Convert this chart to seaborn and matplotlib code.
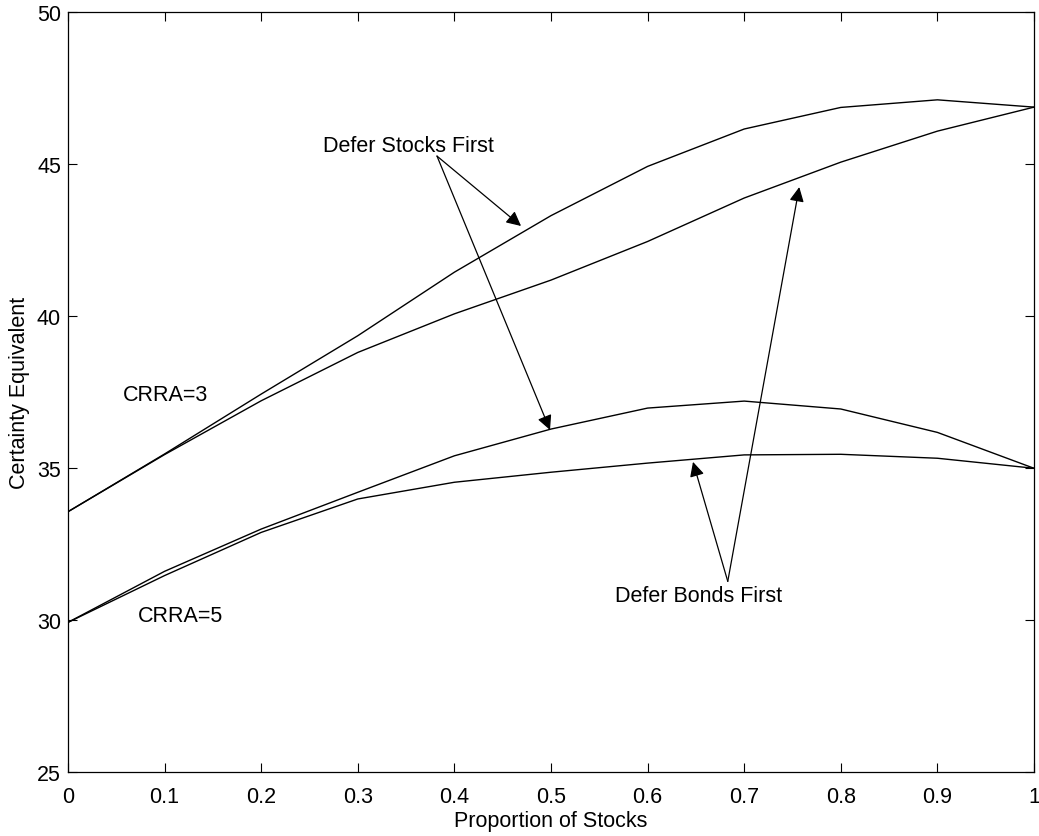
import matplotlib
matplotlib.use("Agg")
import matplotlib.pyplot as plt
import seaborn as sns

# proportion of stocks
prop = [0.0, 0.1, 0.2, 0.3, 0.4, 0.5, 0.6, 0.7, 0.8, 0.9, 1.0]

# certainty equivalents
crra3_defer_stocks = [33.56, 35.46, 37.43, 39.35, 41.44, 43.30, 44.92, 46.15, 46.86, 47.11, 46.87]
crra3_defer_bonds = [33.56, 35.44, 37.21, 38.80, 40.07, 41.18, 42.45, 43.88, 45.06, 46.08, 46.87]
crra5_defer_stocks = [29.92, 31.60, 32.99, 34.20, 35.40, 36.28, 36.97, 37.20, 36.94, 36.17, 34.99]
crra5_defer_bonds = [29.92, 31.46, 32.88, 33.98, 34.53, 34.86, 35.16, 35.43, 35.45, 35.32, 34.99]

xticks = [0, 0.1, 0.2, 0.3, 0.4, 0.5, 0.6, 0.7, 0.8, 0.9, 1]
xticklabels = ["0", "0.1", "0.2", "0.3", "0.4", "0.5", "0.6", "0.7", "0.8", "0.9", "1"]
yticks = [25, 30, 35, 40, 45, 50]

sns.set_style("ticks")
plt.rcParams["font.family"] = ["Liberation Sans", "DejaVu Sans"]
plt.rcParams["text.color"] = "black"
plt.rcParams["axes.labelcolor"] = "black"
plt.rcParams["xtick.color"] = "black"
plt.rcParams["ytick.color"] = "black"
plt.rcParams["axes.edgecolor"] = "black"
FS = 15.5

fig = plt.figure(figsize=(10.39, 8.37), dpi=100)
ax = fig.add_axes([0.0654, 0.0765, 0.9298, 0.908])

for series in [crra3_defer_stocks, crra3_defer_bonds, crra5_defer_stocks, crra5_defer_bonds]:
    sns.lineplot(x=prop, y=series, color="black", linewidth=1.0, ax=ax)

ax.set_xlim(0, 1)
ax.set_ylim(25, 50)
ax.set_xticks(xticks)
ax.set_xticklabels(xticklabels)
ax.set_yticks(yticks)
ax.tick_params(direction="in", length=6.5, width=0.8, labelsize=FS,
               top=True, right=True)
ax.tick_params(axis="x", pad=10)
ax.tick_params(axis="y", pad=5)
for s in ax.spines.values():
    s.set_linewidth(0.9)
    s.set_visible(True)

ax.set_xlabel("Proportion of Stocks", fontsize=FS, labelpad=2)
ax.set_ylabel("Certainty Equivalent", fontsize=FS, labelpad=5)

# text labels
ax.text(0.0566, 37.43, "CRRA=3", fontsize=FS, va="center", ha="left")
ax.text(0.0728, 30.14, "CRRA=5", fontsize=FS, va="center", ha="left")
ax.text(0.264, 45.62, "Defer Stocks First", fontsize=FS, va="center", ha="left")
ax.text(0.566, 30.82, "Defer Bonds First", fontsize=FS, va="center", ha="left")

arrow = dict(arrowstyle="-|>", color="black", lw=0.9, mutation_scale=22,
             shrinkA=0, shrinkB=0)
# defer stocks first arrows
ax.annotate("", xy=(0.469, 42.96), xytext=(0.382, 45.26), arrowprops=arrow)
ax.annotate("", xy=(0.499, 36.25), xytext=(0.382, 45.26), arrowprops=arrow)
# defer bonds first arrows
ax.annotate("", xy=(0.647, 35.20), xytext=(0.683, 31.27), arrowprops=arrow)
ax.annotate("", xy=(0.757, 44.24), xytext=(0.683, 31.27), arrowprops=arrow)

fig.savefig("out.png", dpi=100)
